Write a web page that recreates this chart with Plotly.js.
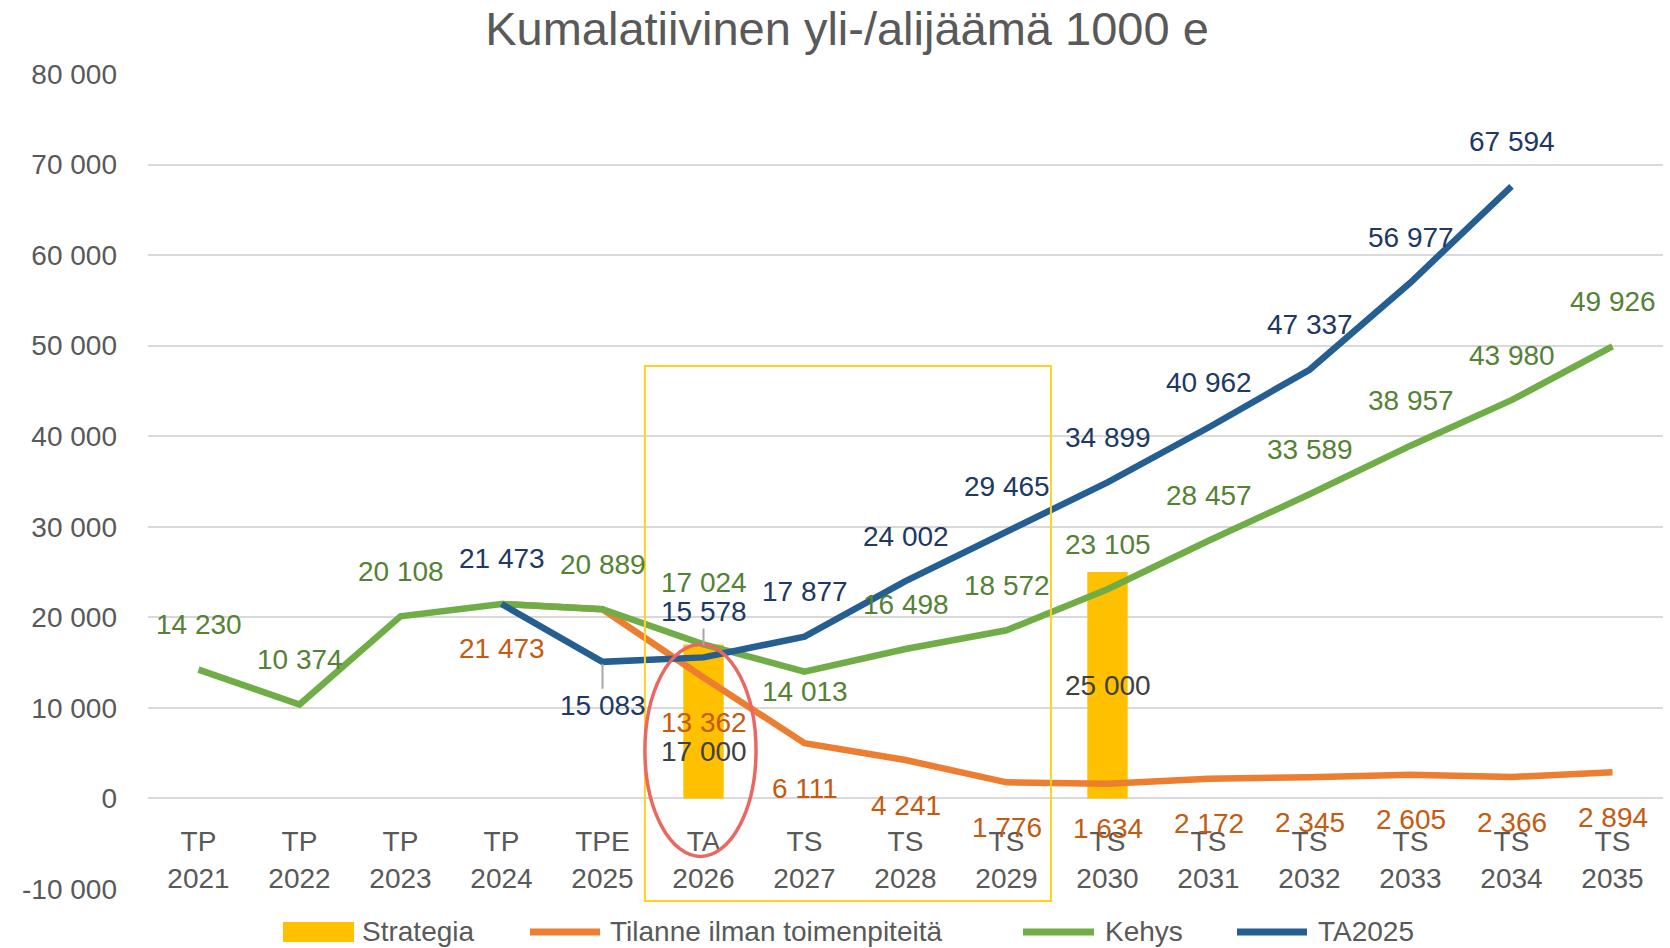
<!DOCTYPE html>
<html>
<head>
<meta charset="utf-8">
<script src="https://cdn.plot.ly/plotly-3.0.1.min.js"></script>
<style>
  html, body { margin: 0; padding: 0; background: #ffffff; }
  #chart { width: 1670px; height: 948px; }
</style>
</head>
<body>
<div id="chart"></div>
<script>
// ---- Data ----
const catTop  = ['TP', 'TP', 'TP', 'TP', 'TPE', 'TA', 'TS', 'TS', 'TS', 'TS', 'TS', 'TS', 'TS', 'TS', 'TS'];
const catYear = ['2021', '2022', '2023', '2024', '2025', '2026', '2027', '2028', '2029', '2030', '2031', '2032', '2033', '2034', '2035'];
const categories = catTop.map((t, i) => t + '<br>' + catYear[i]);

const strategia = [null, null, null, null, null, 17000, null, null, null, 25000, null, null, null, null, null];
const tilanne   = [null, null, null, 21473, 20889, 13362, 6111, 4241, 1776, 1634, 2172, 2345, 2605, 2366, 2894];
const kehys     = [14230, 10374, 20108, 21473, 20889, 17024, 14013, 16498, 18572, 23105, 28457, 33589, 38957, 43980, 49926];
const ta2025    = [null, null, null, 21473, 15083, 15578, 17877, 24002, 29465, 34899, 40962, 47337, 56977, 67594, null];

const yTicks = [-10000, 0, 10000, 20000, 30000, 40000, 50000, 60000, 70000, 80000];

const seriesNames = ['Strategia', 'Tilanne ilman toimenpiteitä', 'Kehys', 'TA2025'];
const titleText = 'Kumalatiivinen yli-/alijäämä 1000 e';

// ---- Helpers ----
function fmt(v) {
  const s = String(Math.abs(v)).replace(/\B(?=(\d{3})+(?!\d))/g, ' ');
  return (v < 0 ? '-' : '') + s;
}

const W = 1670, H = 948;
const M = { l: 148, r: 7, t: 74, b: 59 };
const px2x = p => (p - M.l) / (W - M.l - M.r);
const px2y = p => (H - M.b - p) / (H - M.t - M.b);

const FONT = 'Liberation Sans, Arial, sans-serif';
const FS = 28;
const C = {
  bar: '#FFC000', orange: '#ED7D31', green: '#70AD47', blue: '#255E91',
  orangeTxt: '#C55A11', greenTxt: '#548235', blueTxt: '#203864', barTxt: '#404040',
  axisTxt: '#595959', grid: '#D9D9D9'
};
const seriesColors = [C.bar, C.orange, C.green, C.blue];

// ---- Label placement (pixel offsets from point; layout only) ----
const greenDy  = kehys.map(() => -45);   greenDy[5] = -62; greenDy[6] = 20;
const greenHide = [3];
const blueDy   = ta2025.map(() => -45);
const orangeDy = tilanne.map(() => 45);
const orangeHide = [4];
const barDy    = strategia.map(() => 0); barDy[5] = 30;

const annotations = [];
function addLabels(vals, dys, color, hide) {
  vals.forEach((v, i) => {
    if (v === null || (hide && hide.indexOf(i) >= 0)) return;
    annotations.push({
      x: categories[i], y: v, xref: 'x', yref: 'y',
      text: fmt(v), showarrow: false, yshift: -dys[i],
      xanchor: 'center', yanchor: 'middle',
      font: { family: FONT, size: FS, color: color }
    });
  });
}
addLabels(kehys, greenDy, C.greenTxt, greenHide);
addLabels(tilanne, orangeDy, C.orangeTxt, orangeHide);
// bar labels placed relative to bar middle
strategia.forEach((v, i) => {
  if (v === null) return;
  annotations.push({
    x: categories[i], y: v / 2, xref: 'x', yref: 'y',
    text: fmt(v), showarrow: false, yshift: -barDy[i],
    xanchor: 'center', yanchor: 'middle',
    font: { family: FONT, size: FS, color: C.barTxt }
  });
});
// blue labels, two of them with leader lines
const blueLeader = { 4: { ay: 44, standoff: 2 }, 5: { ay: -46, standoff: 12 } };
ta2025.forEach((v, i) => {
  if (v === null) return;
  if (blueLeader[i]) {
    annotations.push({
      x: categories[i], y: v, xref: 'x', yref: 'y',
      text: fmt(v), showarrow: true, arrowhead: 0, arrowwidth: 2, arrowcolor: '#A6A6A6',
      ax: 0, ay: blueLeader[i].ay, standoff: blueLeader[i].standoff,
      font: { family: FONT, size: FS, color: C.blueTxt }
    });
  } else {
    annotations.push({
      x: categories[i], y: v, xref: 'x', yref: 'y',
      text: fmt(v), showarrow: false, yshift: -blueDy[i],
      xanchor: 'center', yanchor: 'middle',
      font: { family: FONT, size: FS, color: C.blueTxt }
    });
  }
});

// ---- Legend (drawn as shapes + text, Excel-style wide swatches) ----
const legendY = 932;
const legendItems = [
  { kind: 'rect', x0: 283, x1: 354, tx: 360 },
  { kind: 'line', x0: 527, x1: 603, tx: 608 },
  { kind: 'line', x0: 1020, x1: 1097, tx: 1103 },
  { kind: 'line', x0: 1234, x1: 1310, tx: 1316 }
];
const legendShapes = [];
legendItems.forEach((it, k) => {
  if (it.kind === 'rect') {
    legendShapes.push({ type: 'rect', xref: 'paper', yref: 'paper',
      x0: px2x(it.x0), x1: px2x(it.x1), y0: px2y(legendY + 10), y1: px2y(legendY - 10),
      fillcolor: seriesColors[k], line: { width: 0 } });
  } else {
    legendShapes.push({ type: 'line', xref: 'paper', yref: 'paper',
      x0: px2x(it.x0 + 3), x1: px2x(it.x1 - 3), y0: px2y(legendY), y1: px2y(legendY),
      line: { color: seriesColors[k], width: 7 } });
  }
  annotations.push({ xref: 'paper', yref: 'paper', x: px2x(it.tx), y: px2y(legendY),
    text: seriesNames[k], showarrow: false, xanchor: 'left', yanchor: 'middle',
    font: { family: FONT, size: FS, color: C.axisTxt } });
});

// ---- Traces ----
const traces = [
  { type: 'bar', name: seriesNames[0], x: categories, y: strategia, width: 0.4,
    marker: { color: C.bar }, hoverinfo: 'skip' },
  { type: 'scatter', mode: 'lines', name: seriesNames[1], x: categories, y: tilanne,
    line: { color: C.orange, width: 6.5 } },
  { type: 'scatter', mode: 'lines', name: seriesNames[2], x: categories, y: kehys,
    line: { color: C.green, width: 6.5 } },
  { type: 'scatter', mode: 'lines', name: seriesNames[3], x: categories, y: ta2025,
    line: { color: C.blue, width: 6.5 } }
];

const yRange = [-10000, 80000];
const zeroFrac = (0 - yRange[0]) / (yRange[1] - yRange[0]);

const layout = {
  width: W, height: H,
  paper_bgcolor: '#ffffff', plot_bgcolor: '#ffffff',
  margin: { l: M.l, r: M.r, t: M.t, b: M.b, autoexpand: false },
  font: { family: FONT, size: FS, color: C.axisTxt },
  title: { text: titleText, x: 847 / W, xref: 'container', xanchor: 'center',
           y: 1 - 29 / H, yref: 'container', yanchor: 'middle',
           font: { family: FONT, size: 47, color: C.axisTxt } },
  xaxis: {
    type: 'category', range: [-0.5, 14.5], anchor: 'free', position: zeroFrac,
    showgrid: false, zeroline: false, showline: false, ticks: '', ticklabelstandoff: 24,
    tickfont: { family: FONT, size: FS, color: C.axisTxt }, fixedrange: true
  },
  yaxis: {
    range: yRange, tickvals: yTicks, ticktext: yTicks.map(fmt),
    showgrid: true, gridcolor: C.grid, gridwidth: 2, zeroline: false, showline: false,
    ticks: '', ticklabelstandoff: 30,
    tickfont: { family: FONT, size: FS, color: C.axisTxt }, fixedrange: true
  },
  showlegend: false,
  shapes: [
    { type: 'rect', xref: 'x', yref: 'paper', x0: 4.42, x1: 8.44, y0: px2y(901), y1: px2y(366),
      line: { color: '#FFD21F', width: 2 }, fillcolor: 'rgba(0,0,0,0)', layer: 'above' },
    { type: 'circle', xref: 'x', yref: 'y', x0: 4.42, x1: 5.52, y0: -6400, y1: 17000,
      line: { color: '#EB675F', width: 3.5 }, fillcolor: 'rgba(0,0,0,0)', layer: 'above' }
  ].concat(legendShapes),
  annotations: annotations
};

Plotly.newPlot('chart', traces, layout, { displayModeBar: false, staticPlot: true });
</script>
</body>
</html>
